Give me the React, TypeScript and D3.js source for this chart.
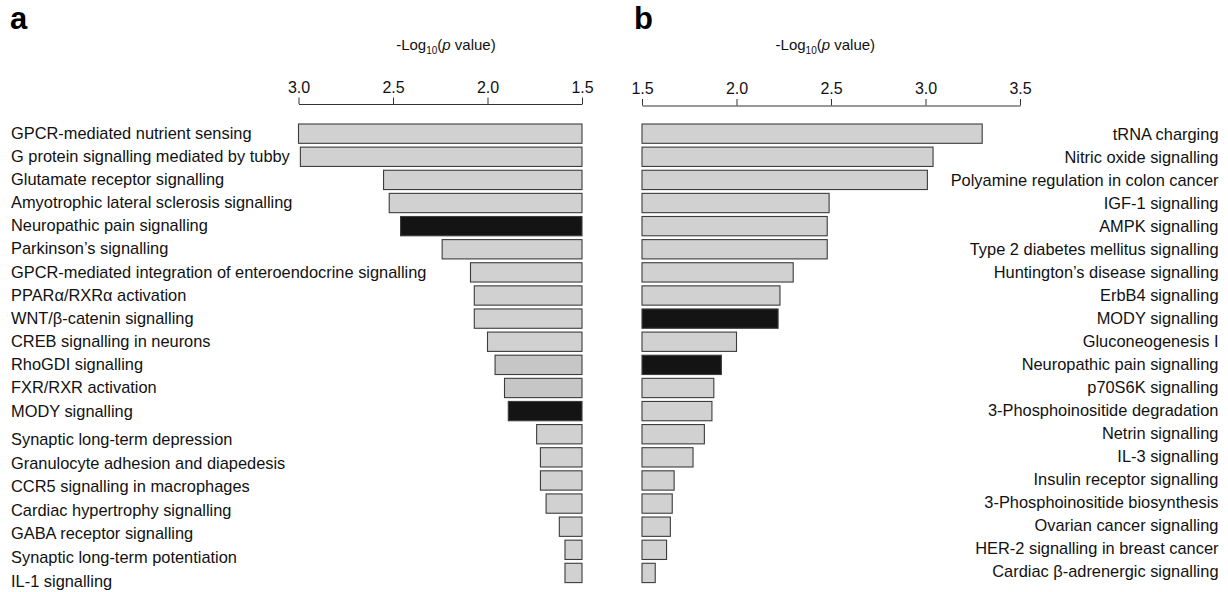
import React, { useEffect, useRef } from 'react'
import * as d3 from 'd3'

// panel a pathways (top to bottom) and their -log10(p)
const pathwaysA = [
    'GPCR-mediated nutrient sensing',
    'G protein signalling mediated by tubby',
    'Glutamate receptor signalling',
    'Amyotrophic lateral sclerosis signalling',
    'Neuropathic pain signalling',
    'Parkinson\u2019s signalling',
    'GPCR-mediated integration of enteroendocrine signalling',
    'PPAR\u03b1/RXR\u03b1 activation',
    'WNT/\u03b2-catenin signalling',
    'CREB signalling in neurons',
    'RhoGDI signalling',
    'FXR/RXR activation',
    'MODY signalling',
    'Synaptic long-term depression',
    'Granulocyte adhesion and diapedesis',
    'CCR5 signalling in macrophages',
    'Cardiac hypertrophy signalling',
    'GABA receptor signalling',
    'Synaptic long-term potentiation',
    'IL-1 signalling',
]
const valuesA = [3.00, 2.99, 2.55, 2.52, 2.46, 2.24, 2.09, 2.07, 2.07, 2.00,
    1.96, 1.91, 1.89, 1.74, 1.72, 1.72, 1.69, 1.62, 1.59, 1.59]
const groupsA = ['n', 'n', 'n', 'n', 'k', 'n', 'n', 'n', 'n', 'n',
    'm', 'm', 'k', 'n', 'n', 'n', 'n', 'n', 'n', 'n']

// panel b
const pathwaysB = [
    'tRNA charging',
    'Nitric oxide signalling',
    'Polyamine regulation in colon cancer',
    'IGF-1 signalling',
    'AMPK signalling',
    'Type 2 diabetes mellitus signalling',
    'Huntington\u2019s disease signalling',
    'ErbB4 signalling',
    'MODY signalling',
    'Gluconeogenesis I',
    'Neuropathic pain signalling',
    'p70S6K signalling',
    '3-Phosphoinositide degradation',
    'Netrin signalling',
    'IL-3 signalling',
    'Insulin receptor signalling',
    '3-Phosphoinositide biosynthesis',
    'Ovarian cancer signalling',
    'HER-2 signalling in breast cancer',
    'Cardiac \u03b2-adrenergic signalling',
]
const valuesB = [3.30, 3.04, 3.01, 2.49, 2.48, 2.48, 2.30, 2.23, 2.22, 2.00,
    1.92, 1.88, 1.87, 1.83, 1.77, 1.67, 1.66, 1.65, 1.63, 1.57]
const groupsB = ['n', 'n', 'n', 'n', 'n', 'n', 'n', 'n', 'k', 'n',
    'k', 'n', 'n', 'n', 'n', 'n', 'n', 'n', 'n', 'n']

const ticksA = [3.0, 2.5, 2.0, 1.5]
const ticksB = [1.5, 2.0, 2.5, 3.0, 3.5]

const fills: { [k: string]: string } = { n: '#d0d1d0', m: '#c5c6c5', k: '#141414' }
const font = '"Liberation Sans", Arial, Helvetica, sans-serif'

export default function App() {
    const ref = useRef<SVGSVGElement>(null)

    useEffect(() => {
        const svg = d3.select(ref.current)
        svg.selectAll('*').remove()

        const step = 23.12
        const y = d3.scaleBand<number>()
            .domain(d3.range(20))
            .range([122.1, 122.1 + step * 20])
            .paddingInner(0.165)
            .paddingOuter(0.0825)

        // label centres drift a little from the bars in the source figure
        const labelYA = d3.scaleLinear().domain([0, 12, 13, 19]).range([132.5, 410.5, 439, 580.5])
        const labelYB = d3.scaleLinear().domain([0, 19]).range([133.5, 571])
        const capShift = 6

        const xA = d3.scaleLinear().domain([1.5, 3.0]).range([582, 298.5])
        const xB = d3.scaleLinear().domain([1.5, 3.5]).range([642, 1020])

        function axis(scale: any, ticks: number[], yPos: number) {
            const g = svg.append('g')
                .attr('transform', 'translate(0,' + yPos + ')')
                .call(d3.axisTop(scale).tickValues(ticks).tickFormat(d3.format('.1f'))
                    .tickSize(6.5).tickSizeOuter(0).tickPadding(5))
            g.selectAll('path, line').attr('stroke', '#333').attr('stroke-width', 1)
            g.selectAll('text').style('font-size', '16px').style('font-family', font).attr('fill', '#111')
        }

        function title(cx: number, by: number) {
            const t = svg.append('text')
                .attr('x', cx)
                .attr('y', by)
                .attr('text-anchor', 'middle')
                .style('font-size', '15px')
                .style('font-family', font)
                .attr('fill', '#111')
            t.append('tspan').text('-Log')
            t.append('tspan').attr('dy', 4).style('font-size', '10px').text('10')
            t.append('tspan').attr('dy', -4).text('(')
            t.append('tspan').style('font-style', 'italic').text('p')
            t.append('tspan').text(' value)')
        }

        // panel letters
        svg.append('text').attr('x', 10).attr('y', 29).text('a')
            .style('font-size', '31px').style('font-weight', 'bold').style('font-family', font)
        svg.append('text').attr('x', 634).attr('y', 29).text('b')
            .style('font-size', '31px').style('font-weight', 'bold').style('font-family', font)

        title(xA(2.22), 50)
        title(xB(2.47), 50)
        axis(xA, ticksA, 104)
        axis(xB, ticksB, 105.5)

        // panel a bars grow leftwards from 1.5
        svg.append('g')
            .selectAll('rect')
            .data(valuesA)
            .enter()
            .append('rect')
            .attr('x', function (d) { return xA(d) })
            .attr('y', function (d, i) { return y(i) as number })
            .attr('width', function (d) { return xA(1.5) - xA(d) })
            .attr('height', y.bandwidth())
            .attr('fill', function (d, i) { return fills[groupsA[i]] })
            .attr('stroke', '#3c3c3c')
            .attr('stroke-width', 1.1)

        svg.append('g')
            .selectAll('text')
            .data(pathwaysA)
            .enter()
            .append('text')
            .attr('x', 11)
            .attr('y', function (d, i) { return labelYA(i) + capShift })
            .text(function (d) { return d })
            .style('font-size', '16.4px')
            .style('font-family', font)
            .attr('fill', '#111')

        svg.append('g')
            .selectAll('rect')
            .data(valuesB)
            .enter()
            .append('rect')
            .attr('x', xB(1.5))
            .attr('y', function (d, i) { return y(i) as number })
            .attr('width', function (d) { return xB(d) - xB(1.5) })
            .attr('height', y.bandwidth())
            .attr('fill', function (d, i) { return fills[groupsB[i]] })
            .attr('stroke', '#3c3c3c')
            .attr('stroke-width', 1.1)

        svg.append('g')
            .selectAll('text')
            .data(pathwaysB)
            .enter()
            .append('text')
            .attr('x', 1218.5)
            .attr('y', function (d, i) { return labelYB(i) + capShift })
            .attr('text-anchor', 'end')
            .text(function (d) { return d })
            .style('font-size', '16.4px')
            .style('font-family', font)
            .attr('fill', '#111')
    }, [])

    return (
        <svg ref={ref} width={1228} height={592}
            style={{ position: 'absolute', left: 0, top: 0, background: '#fff' }} />
    )
}
